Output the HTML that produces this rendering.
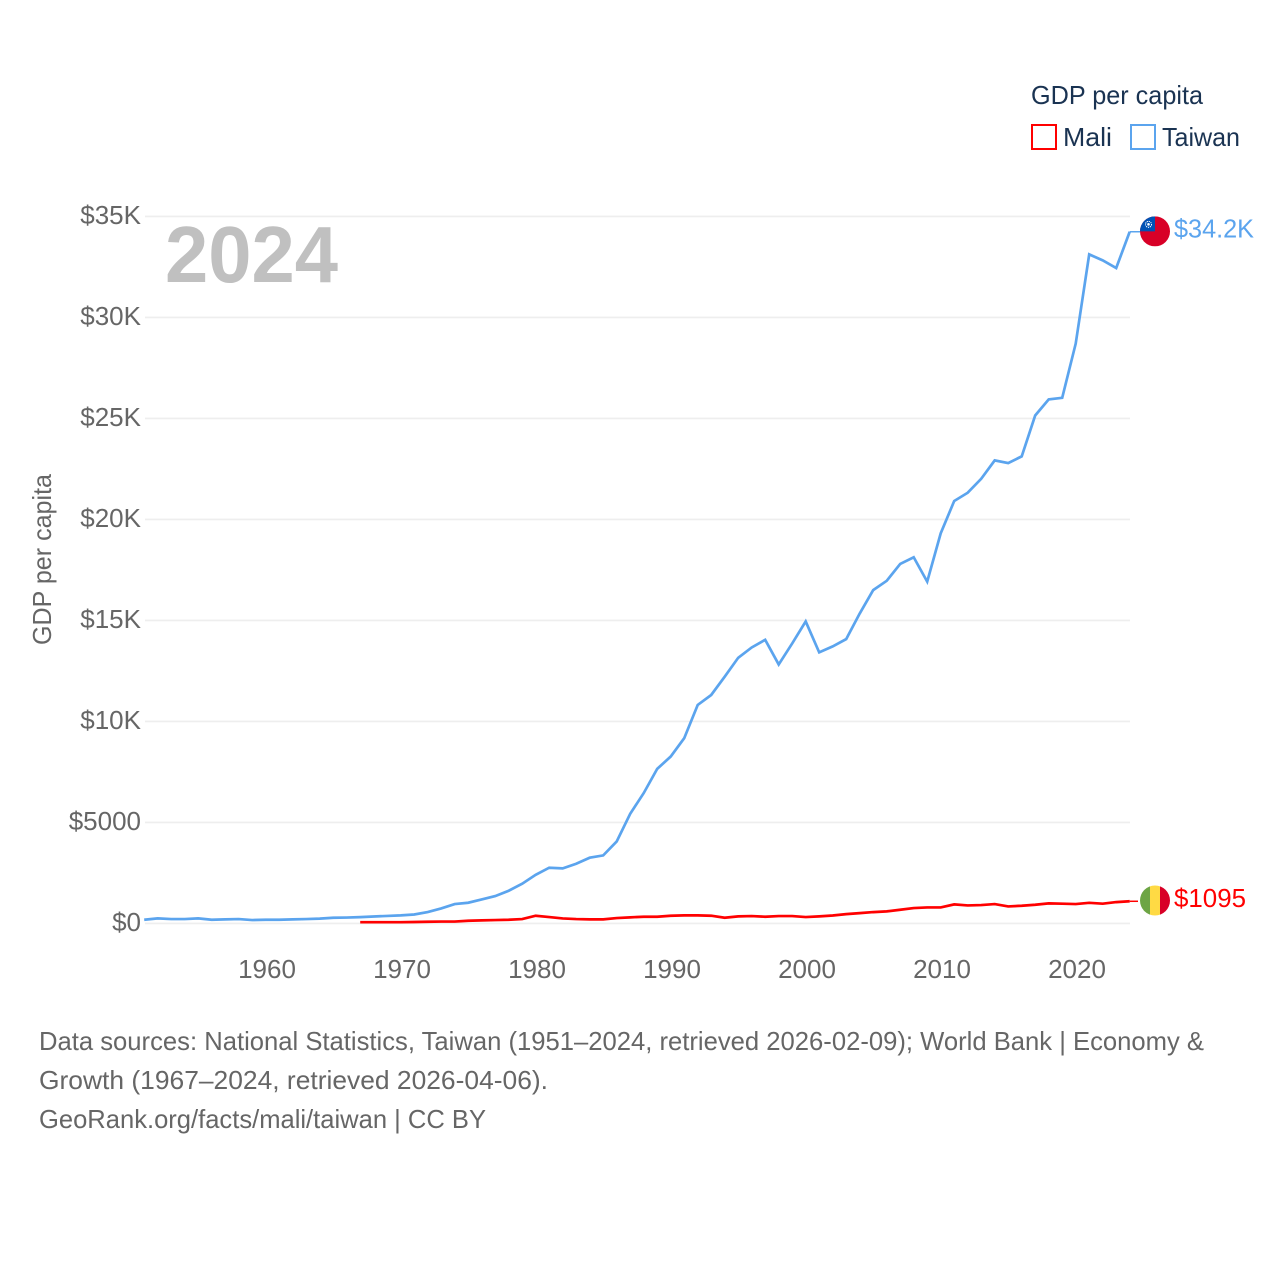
<!DOCTYPE html>
<html lang="en">
<head>
<meta charset="utf-8">
<title>GDP per capita: Mali and Taiwan</title>
<style>
html,body{margin:0;padding:0;background:#fff;width:1280px;height:1280px;overflow:hidden}
svg{display:block}
text{font-family:"Liberation Sans",sans-serif}
</style>
</head>
<body>
<svg id="chart" xmlns="http://www.w3.org/2000/svg" width="1280" height="1280" viewBox="0 0 1280 1280">
  <defs>
    <clipPath id="flag-clip"><circle cx="0" cy="0" r="15"></circle></clipPath>
  </defs>
  <g id="grid"></g>
  <g id="y-ticks"></g>
  <g id="x-ticks"></g>
  <text transform="translate(51,645) rotate(-90)" font-size="26" fill="#666666" textLength="171" lengthAdjust="spacingAndGlyphs">GDP per capita</text>
  <text x="165" y="282" font-size="80" font-weight="700" fill="#c0c0c0" textLength="173" lengthAdjust="spacingAndGlyphs">2024</text>
  <g id="series"></g>
  <g id="end-labels"></g>
  <g>
    <text x="1031" y="104" font-size="26" fill="#1a3352" textLength="172" lengthAdjust="spacingAndGlyphs">GDP per capita</text>
    <rect x="1032" y="125" width="24" height="24" fill="#fff" stroke="#ff0000" stroke-width="2"></rect>
    <text x="1063" y="146" font-size="26" fill="#1a3352" textLength="49" lengthAdjust="spacingAndGlyphs">Mali</text>
    <rect x="1131" y="125" width="24" height="24" fill="#fff" stroke="#5ba4ee" stroke-width="2"></rect>
    <text x="1162" y="146" font-size="26" fill="#1a3352" textLength="78" lengthAdjust="spacingAndGlyphs">Taiwan</text>
  </g>
  <g>
    <text x="39" y="1050" font-size="26" fill="#666666" textLength="1165" lengthAdjust="spacingAndGlyphs">Data sources: National Statistics, Taiwan (1951–2024, retrieved 2026-02-09); World Bank | Economy &amp;</text>
    <text x="39" y="1089" font-size="26" fill="#666666" textLength="509" lengthAdjust="spacingAndGlyphs">Growth (1967–2024, retrieved 2026-04-06).</text>
    <text x="39" y="1128" font-size="26" fill="#666666" textLength="447" lengthAdjust="spacingAndGlyphs">GeoRank.org/facts/mali/taiwan | CC BY</text>
  </g>
</svg>
<script>
const yTickValues = [0, 5000, 10000, 15000, 20000, 25000, 30000, 35000];
const yTickLabels = ["$0", "$5000", "$10K", "$15K", "$20K", "$25K", "$30K", "$35K"];
const xTickYears = [1960, 1970, 1980, 1990, 2000, 2010, 2020];
const taiwanStartYear = 1951;
const taiwanValues = [181, 247, 214, 214, 247, 181, 198, 214, 165, 181, 181, 198, 215, 235, 280, 290, 310, 340, 370, 396, 440, 560, 742, 957, 1023, 1188, 1353, 1617, 1964, 2409, 2756, 2723, 2954, 3251, 3366, 4059, 5428, 6450, 7650, 8260, 9167, 10814, 11308, 12214, 13150, 13660, 14040, 12820, 13860, 14950, 13416, 13712, 14075, 15340, 16500, 16960, 17795, 18125, 16920, 19310, 20910, 21320, 22010, 22920, 22790, 23120, 25145, 25940, 26020, 28700, 33120, 32825, 32445, 34240];
const maliStartYear = 1967;
const maliValues = [60, 60, 60, 60, 70, 80, 90, 90, 130, 150, 165, 180, 215, 380, 315, 245, 215, 200, 200, 265, 300, 330, 330, 380, 396, 396, 380, 280, 346, 363, 330, 363, 363, 315, 346, 390, 460, 510, 560, 594, 676, 760, 790, 790, 940, 890, 907, 957, 840, 875, 925, 990, 975, 957, 1020, 975, 1055, 1095];
const taiwanEndLabel = "$34.2K";
const maliEndLabel = "$1095";

const NS = "http://www.w3.org/2000/svg";
const xDomain = [1951, 2024], xRange = [144.2, 1129.7];
const tickLabelShift = 1.3;
const yDomain = [0, 35000], yRange = [923.4, 216.4];
function xScale(year) { return xRange[0] + (year - xDomain[0]) * (xRange[1] - xRange[0]) / (xDomain[1] - xDomain[0]); }
function yScale(value) { return yRange[0] + (value - yDomain[0]) * (yRange[1] - yRange[0]) / (yDomain[1] - yDomain[0]); }
function make(tag, parent, attrs, content) {
  const el = document.createElementNS(NS, tag);
  for (const key in attrs) el.setAttribute(key, attrs[key]);
  if (content !== undefined) el.textContent = content;
  parent.appendChild(el);
  return el;
}

const gridGroup = document.getElementById("grid");
const yTickGroup = document.getElementById("y-ticks");
yTickValues.forEach(function (value, i) {
  const line = make("line", gridGroup, { x1: 145, x2: 1130, y1: yScale(value), y2: yScale(value), stroke: "#eeeeee", "stroke-width": 1.6 });
  
  
  const label = make("text", yTickGroup, { x: 141, y: yScale(value) + 7.6, "text-anchor": "end", "font-size": 26, fill: "#666666" }, yTickLabels[i]);
  
  
});

const xTickGroup = document.getElementById("x-ticks");
xTickYears.forEach(function (year) {
  const label = make("text", xTickGroup, { x: xScale(year) + tickLabelShift, y: 978, "text-anchor": "middle", "font-size": 26, fill: "#666666" }, String(year));
  
  
});

function pointsFor(startYear, values) {
  return values.map(function (value, i) { return xScale(startYear + i).toFixed(2) + "," + yScale(value).toFixed(2); }).join(" ");
}
const seriesGroup = document.getElementById("series");
const endGroup = document.getElementById("end-labels");

const taiwanLine = make("polyline", seriesGroup, { points: pointsFor(taiwanStartYear, taiwanValues), fill: "none", stroke: "#5ba4ee", "stroke-width": 2.7, "stroke-linejoin": "miter" });


const maliLine = make("polyline", seriesGroup, { points: pointsFor(maliStartYear, maliValues), fill: "none", stroke: "#ff0000", "stroke-width": 2.7, "stroke-linejoin": "miter" });



const taiwanLastY = yScale(taiwanValues[taiwanValues.length - 1]);
const maliLastY = yScale(maliValues[maliValues.length - 1]);
const lastX = xScale(xDomain[1]);

const taiwanLeader = make("line", endGroup, { x1: lastX, x2: lastX + 10.3, y1: taiwanLastY, y2: taiwanLastY, stroke: "#5ba4ee", "stroke-width": 1.5 });


const maliLeader = make("line", endGroup, { x1: lastX, x2: lastX + 8.3, y1: maliLastY, y2: maliLastY, stroke: "#ff0000", "stroke-width": 1.5 });



const taiwanFlag = make("g", endGroup, { transform: "translate(1155," + (taiwanLastY - 0.4) + ")", "clip-path": "url(#flag-clip)" });


make("rect", taiwanFlag, { x: -15, y: -15, width: 30, height: 30, fill: "#d80027" });
make("rect", taiwanFlag, { x: -15, y: -15, width: 15, height: 15, fill: "#0052b4" });
make("circle", taiwanFlag, { cx: -6.5, cy: -7, r: 3, fill: "none", stroke: "#ffffff", "stroke-width": 1, "stroke-dasharray": "1.2 0.8" });
make("circle", taiwanFlag, { cx: -6.5, cy: -7, r: 1.3, fill: "#ffffff" });

const maliFlag = make("g", endGroup, { transform: "translate(1155," + (maliLastY - 0.8) + ")", "clip-path": "url(#flag-clip)" });


make("rect", maliFlag, { x: -15, y: -15, width: 10, height: 30, fill: "#6da544" });
make("rect", maliFlag, { x: -5, y: -15, width: 10, height: 30, fill: "#ffda44" });
make("rect", maliFlag, { x: 5, y: -15, width: 10, height: 30, fill: "#d80027" });

const taiwanLabel = make("text", endGroup, { x: 1174, y: taiwanLastY + 5.5, "font-size": 26, fill: "#5ba4ee", textLength: 80, lengthAdjust: "spacingAndGlyphs" }, taiwanEndLabel);


const maliLabel = make("text", endGroup, { x: 1174, y: maliLastY + 5.8, "font-size": 26, fill: "#ff0000", textLength: 72, lengthAdjust: "spacingAndGlyphs" }, maliEndLabel);


</script>
</body>
</html>
